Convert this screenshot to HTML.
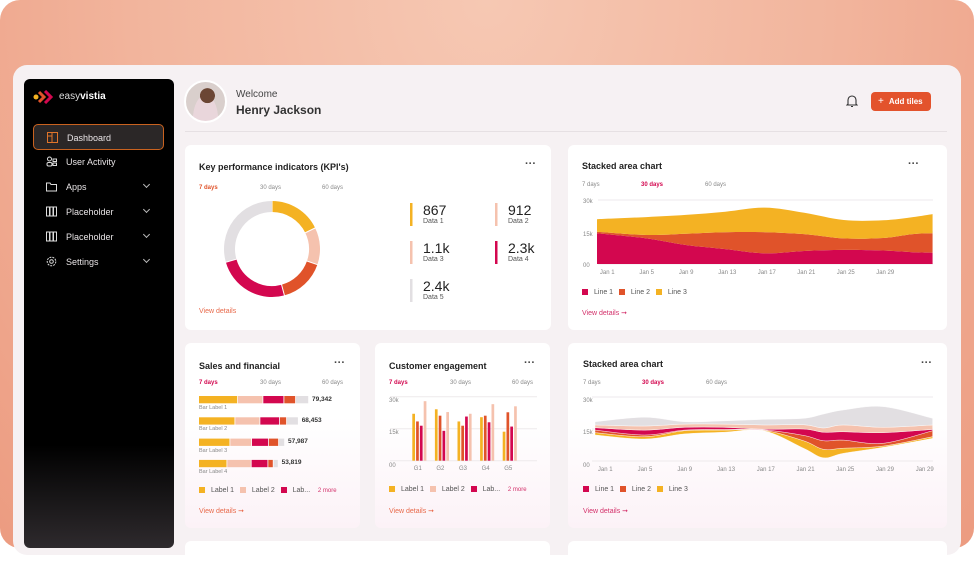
<!DOCTYPE html>
<html><head><meta charset="utf-8">
<style>
*{box-sizing:border-box;margin:0;padding:0}
body{width:974px;height:548px;overflow:hidden;background:#fff;font-family:"Liberation Sans",sans-serif;position:relative}
.abs{position:absolute}
#outer{left:0;top:0;width:974px;height:548px;border-radius:20px;background:radial-gradient(ellipse at 50% 0%,#f6c8b3 0%,#f2b59d 50%,#ec9b80 100%)}
#frame{left:13px;top:65px;width:948px;height:490px;border-radius:14px;background:#f6f1f3}
#side{left:24px;top:79px;width:150px;height:469px;border-radius:6px;background:linear-gradient(#000 0%,#000 78%,#2e2a2d 100%)}
.nav{position:absolute;left:33px;width:131px;height:26px;color:#e8e4e6;font-size:9px;display:flex;align-items:center}
.nav .ic{position:absolute;left:13px;top:7px;width:11px;height:11px}
.nav span.t{position:absolute;left:33px;top:8px}
.nav .chev{position:absolute;left:111px;top:8px;width:5px;height:5px;border-right:1px solid #bbb;border-bottom:1px solid #bbb;transform:rotate(45deg)}
.card{position:absolute;background:#fff;border-radius:6px}
.ttl{position:absolute;font-size:9px;font-weight:bold;color:#222}
.dots{position:absolute;font-size:11px;color:#444;letter-spacing:0px;font-weight:bold}
.tab{position:absolute;font-size:6px;color:#8a8a8a}
.tab.on{font-weight:bold}
.vd{position:absolute;font-size:7px}
.tick{position:absolute;font-size:6px;color:#888}
.kv{position:absolute;font-size:14px;color:#222}
.kl{position:absolute;font-size:7px;color:#555}
.leg{position:absolute;font-size:7px;color:#555}
.sw{display:inline-block;width:6px;height:6px;margin-right:6px;vertical-align:-1px}
</style></head><body>
<div class="abs" id="outer"></div>
<div class="abs" id="frame"></div>

<div class="abs" id="side"></div>
<div class="abs" style="left:33px;top:90px;width:110px;height:14px">
  <svg width="22" height="14" style="position:absolute;left:0;top:0"><circle cx="3" cy="7" r="2.5" fill="#f4b223"/><path d="M6 2 L11 7 L6 12" stroke="#e0532a" stroke-width="3" fill="none"/><path d="M12 1 L18 7 L12 13" stroke="#d3074f" stroke-width="3" fill="none"/></svg>
  <span style="position:absolute;left:26px;top:1px;font-size:10px;color:#ddd">easy<b style="color:#fff">vistia</b></span>
</div>
<div class="nav" style="top:124px;background:#2b2727;border:1px solid #c9621f;border-radius:5px"><svg class="ic" viewBox="0 0 11 11"><rect x="0.5" y="0.5" width="10" height="10" fill="none" stroke="#e0742a"/><path d="M5 0.5 V10.5 M0.5 4 H5" stroke="#e0742a"/></svg><span class="t">Dashboard</span></div>
<div class="nav" style="top:149px"><svg class="ic" viewBox="0 0 11 11"><circle cx="3.5" cy="3" r="2" fill="none" stroke="#ddd"/><rect x="1" y="6.5" width="5" height="3.5" rx="1.5" fill="none" stroke="#ddd"/><rect x="7" y="3" width="3.5" height="2.5" fill="none" stroke="#ddd"/><rect x="7" y="7" width="3.5" height="2.5" fill="none" stroke="#ddd"/></svg><span class="t">User Activity</span></div>
<div class="nav" style="top:174px"><svg class="ic" viewBox="0 0 11 11"><path d="M0.5 2 H4 L5 3.5 H10.5 V10 H0.5 Z" fill="none" stroke="#ddd"/></svg><span class="t">Apps</span><i class="chev"></i></div>
<div class="nav" style="top:199px"><svg class="ic" viewBox="0 0 11 11"><rect x="0.5" y="1" width="3" height="9" fill="none" stroke="#ddd"/><rect x="4" y="1" width="3" height="9" fill="none" stroke="#ddd"/><rect x="7.5" y="1" width="3" height="9" fill="none" stroke="#ddd"/></svg><span class="t">Placeholder</span><i class="chev"></i></div>
<div class="nav" style="top:224px"><svg class="ic" viewBox="0 0 11 11"><rect x="0.5" y="1" width="3" height="9" fill="none" stroke="#ddd"/><rect x="4" y="1" width="3" height="9" fill="none" stroke="#ddd"/><rect x="7.5" y="1" width="3" height="9" fill="none" stroke="#ddd"/></svg><span class="t">Placeholder</span><i class="chev"></i></div>
<div class="nav" style="top:249px"><svg class="ic" viewBox="0 0 11 11"><circle cx="5.5" cy="5.5" r="4.3" fill="none" stroke="#ddd" stroke-dasharray="2 1"/><circle cx="5.5" cy="5.5" r="1.8" fill="none" stroke="#ddd"/></svg><span class="t">Settings</span><i class="chev"></i></div>

<!-- header -->
<div class="abs" style="left:184px;top:80px;width:43px;height:43px;border-radius:50%;background:radial-gradient(circle at 55% 35%,#6b4634 0 22%,transparent 23%),radial-gradient(ellipse at 50% 95%,#e9d6db 0 45%,transparent 46%),#d9cfcc;border:2px solid #fff"></div>
<div class="abs" style="left:236px;top:89px;font-size:10px;color:#444">Welcome</div>
<div class="abs" style="left:236px;top:103px;font-size:12px;font-weight:bold;color:#333">Henry Jackson</div>
<svg class="abs" style="left:846px;top:94px" width="12" height="14"><path d="M2 10 V6 A4 4 0 0 1 10 6 V10 L11 11 H1 Z" fill="none" stroke="#333" stroke-width="1.1"/><path d="M5 12.5 H7" stroke="#333"/></svg>
<div class="abs" style="left:871px;top:92px;width:60px;height:19px;border-radius:4px;background:#e3532c;color:#fff;font-size:8px;font-weight:bold;line-height:19px;padding-left:7px"><span style="font-weight:normal;font-size:10px;margin-right:5px">+</span>Add tiles</div>
<div class="abs" style="left:185px;top:131px;width:762px;height:1px;background:#e6e0e3"></div>

<!-- cards -->
<div class="card" style="left:185px;top:145px;width:366px;height:185px"></div>
<div class="card" style="left:568px;top:145px;width:379px;height:185px"></div>
<div class="card" style="left:185px;top:343px;width:175px;height:185px;background:linear-gradient(#fff 40%,#fcf2f7)"></div>
<div class="card" style="left:375px;top:343px;width:175px;height:185px;background:linear-gradient(#fff 40%,#fcf2f7)"></div>
<div class="card" style="left:568px;top:343px;width:379px;height:185px;background:linear-gradient(#fff 40%,#fcf2f7)"></div>
<div class="card" style="left:185px;top:541px;width:365px;height:20px"></div>
<div class="card" style="left:568px;top:541px;width:379px;height:20px"></div>

<!-- KPI card text -->
<div class="ttl" style="left:199px;top:162px">Key performance indicators (KPI's)</div>
<div class="dots" style="left:525px;top:158px">···</div>
<div class="tab on" style="left:199px;top:185px;color:#e0532a">7 days</div>
<div class="tab" style="left:260px;top:185px">30 days</div>
<div class="tab" style="left:322px;top:185px">60 days</div>
<div class="vd" style="left:199px;top:308px;color:#e8694a">View details</div>
<div id="kpis"></div>

<!-- stacked area 1 text -->
<div class="ttl" style="left:582px;top:161px">Stacked area chart</div>
<div class="dots" style="left:908px;top:158px">···</div>
<div class="tab" style="left:582px;top:182px">7 days</div>
<div class="tab on" style="left:641px;top:182px;color:#d3074f">30 days</div>
<div class="tab" style="left:705px;top:182px">60 days</div>
<div class="leg" style="left:582px;top:289px"><span class="sw" style="background:#d3074f"></span>Line 1&nbsp;&nbsp;&nbsp;<span class="sw" style="background:#e0532a"></span>Line 2&nbsp;&nbsp;&nbsp;<span class="sw" style="background:#f4b223"></span>Line 3</div>
<div class="vd" style="left:582px;top:309px;color:#d3306a">View details &#10142;</div>

<!-- sales -->
<div class="ttl" style="left:199px;top:361px">Sales and financial</div>
<div class="dots" style="left:334px;top:357px">···</div>
<div class="tab on" style="left:199px;top:380px;color:#d3074f">7 days</div>
<div class="tab" style="left:260px;top:380px">30 days</div>
<div class="tab" style="left:322px;top:380px">60 days</div>
<div class="leg" style="left:199px;top:487px"><span class="sw" style="background:#f4b223"></span>Label 1&nbsp;&nbsp;&nbsp;<span class="sw" style="background:#f5c2ae"></span>Label 2&nbsp;&nbsp;&nbsp;<span class="sw" style="background:#d3074f"></span>Lab...&nbsp;&nbsp;&nbsp;&nbsp;<span style="color:#d3306a;font-size:6px">2 more</span></div>
<div class="vd" style="left:199px;top:507px;color:#e8694a">View details &#10142;</div>

<!-- engagement -->
<div class="ttl" style="left:389px;top:361px">Customer engagement</div>
<div class="dots" style="left:524px;top:357px">···</div>
<div class="tab on" style="left:389px;top:380px;color:#d3074f">7 days</div>
<div class="tab" style="left:450px;top:380px">30 days</div>
<div class="tab" style="left:512px;top:380px">60 days</div>
<div class="leg" style="left:389px;top:486px"><span class="sw" style="background:#f4b223"></span>Label 1&nbsp;&nbsp;&nbsp;<span class="sw" style="background:#f5c2ae"></span>Label 2&nbsp;&nbsp;&nbsp;<span class="sw" style="background:#d3074f"></span>Lab...&nbsp;&nbsp;&nbsp;&nbsp;<span style="color:#d3306a;font-size:6px">2 more</span></div>
<div class="vd" style="left:389px;top:507px;color:#e8694a">View details &#10142;</div>

<!-- stacked area 2 -->
<div class="ttl" style="left:583px;top:359px">Stacked area chart</div>
<div class="dots" style="left:921px;top:357px">···</div>
<div class="tab" style="left:583px;top:380px">7 days</div>
<div class="tab on" style="left:642px;top:380px;color:#d3074f">30 days</div>
<div class="tab" style="left:706px;top:380px">60 days</div>
<div class="leg" style="left:583px;top:486px"><span class="sw" style="background:#d3074f"></span>Line 1&nbsp;&nbsp;&nbsp;<span class="sw" style="background:#e0532a"></span>Line 2&nbsp;&nbsp;&nbsp;<span class="sw" style="background:#f4b223"></span>Line 3</div>
<div class="vd" style="left:583px;top:507px;color:#d3306a">View details &#10142;</div>

<div id="labels"></div>
<svg id="charts" class="abs" style="left:0;top:0" width="974" height="548"></svg>

<script>
// ---- Donut / KPI data ----
const donutValues = [64, 45, 56, 89, 106];
const kpiValues = ["867", "912", "1.1k", "2.3k", "2.4k"];
const kpiLabels = ["Data 1", "Data 2", "Data 3", "Data 4", "Data 5"];
// ---- Stacked area 1 ----
const area1Days = [0, 5, 9, 13, 17, 21, 25, 29, 32, 34];
const area1Line1 = [14.4, 12, 8.9, 7, 5, 6.1, 6.6, 6.3, 5.5, 5.3];
const area1Line2 = [0.7, 1.6, 5.3, 7.9, 9.9, 7.9, 5.4, 5.9, 8.5, 9.1];
const area1Line3 = [5.9, 8.4, 8.8, 9.6, 11.5, 10, 8.6, 8.3, 8, 9];
const areaTickLabels = ["Jan 1", "Jan 5", "Jan 9", "Jan 13", "Jan 17", "Jan 21", "Jan 25", "Jan 29"];
const areaTickDays = [1, 5, 9, 13, 17, 21, 25, 29];
const yTickLabels = ["30k", "15k", "00"];
const yTickValues = [30, 15, 0];
// ---- Stacked area 2 (stream) ----
const area2Days = [0, 5, 9, 13, 17, 21, 23, 25, 29, 34];
const area2Base = [12.2, 10.3, 12.7, 13.5, 14.2, 6, 1.5, 3.6, 6.4, 10.6];
const area2Line3 = [1.1, 1.1, 1.5, 1, 0.2, 3.5, 4, 2.4, 0.6, 0.8];
const area2Line2 = [1.2, 0.8, 0.3, 0.3, 0.2, 2.5, 4, 3.8, 1.3, 2.8];
const area2Line1 = [1.1, 2.3, 1.3, 1, 0.3, 3, 4, 3.9, 5, 0.6];
const area2Peach = [1.3, 1.9, 1.5, 1.5, 2, 2, 2, 3.2, 2.5, 2.1];
const area2Grey = [1.5, 4.1, 1.1, 1.5, 2.6, 3, 6.5, 7, 9.7, 3.1];
const area2TickLabels = ["Jan 1", "Jan 5", "Jan 9", "Jan 13", "Jan 17", "Jan 21", "Jan 25", "Jan 29", "Jan 29"];
const area2TickDays = [1, 5, 9, 13, 17, 21, 25, 29, 33];
// ---- Sales bars ----
const salesLabels = ["Bar Label 1", "Bar Label 2", "Bar Label 3", "Bar Label 4"];
const salesTotals = ["79,342", "68,453", "57,987", "53,819"];
const salesSeg1 = [39, 36.3, 31.3, 28.3];
const salesSeg2 = [25.3, 25, 21.7, 24.3];
const salesSeg3 = [21, 19.7, 17, 16.7];
const salesSeg4 = [11.7, 7, 10, 5.3];
const salesSeg5 = [13, 11.7, 6, 5];
// ---- Engagement bars ----
const engGroups = ["G1", "G2", "G3", "G4", "G5"];
const engLabel1 = [22, 24.1, 18.4, 20.4, 13.6];
const engLabel2 = [18.4, 21.1, 16.4, 21.1, 22.7];
const engLabel3 = [16.4, 14, 20.7, 18, 16];
const engLabel4 = [27.9, 22.8, 22, 26.5, 25.5];

const NS = "http://www.w3.org/2000/svg";
const svg = document.getElementById('charts');
const labels = document.getElementById('labels');
const C = {yellow:"#f4b223", peach:"#f5c2ae", orange:"#e0532a", crimson:"#d3074f", grey:"#e2dfe2"};

function mk(tag, attrs){ const e=document.createElementNS(NS,tag); for(const k in attrs) e.setAttribute(k,attrs[k]); svg.appendChild(e); return e; }
function txt(name, s, x, y, cls, extra){ const d=document.createElement('div'); d.className=cls; d.textContent=s; d.style.left=x+'px'; d.style.top=y+'px'; if(extra) d.style.cssText+=extra;
  
  
  labels.appendChild(d); return d; }
function segs(pts){ let d=''; for(let i=0;i<pts.length-1;i++){ const p0=pts[i-1]||pts[i], p1=pts[i], p2=pts[i+1], p3=pts[i+2]||p2;
  const c1=[p1[0]+(p2[0]-p0[0])/6, p1[1]+(p2[1]-p0[1])/6], c2=[p2[0]-(p3[0]-p1[0])/6, p2[1]-(p3[1]-p1[1])/6];
  d+=`C${c1[0].toFixed(2)},${c1[1].toFixed(2)} ${c2[0].toFixed(2)},${c2[1].toFixed(2)} ${p2[0].toFixed(2)},${p2[1].toFixed(2)}`; } return d; }
function areaPath(top, bot){ const rb=bot.slice().reverse(); return `M${top[0][0]},${top[0][1]}`+segs(top)+`L${rb[0][0]},${rb[0][1]}`+segs(rb)+'Z'; }

// ---- Donut ----
(function(){
  const cx=272, cy=249, r=42.5, total=donutValues.reduce((a,b)=>a+b,0);
  const cols=[C.yellow,C.peach,C.orange,C.crimson,C.grey];
  let a0=0;
  donutValues.forEach((v,i)=>{
    const a1=a0+v/total*Math.PI*2;
    const p=(a)=>[cx+r*Math.sin(a), cy-r*Math.cos(a)];
    const s=p(a0), e=p(a1), large=(a1-a0)>Math.PI?1:0;
    const el=mk('path',{d:`M${s[0]},${s[1]} A${r},${r} 0 ${large} 1 ${e[0]},${e[1]}`,stroke:cols[i],'stroke-width':11,fill:'none'});
    
    
    const g=mk('line',{x1:cx+(r-6)*Math.sin(a0),y1:cy-(r-6)*Math.cos(a0),x2:cx+(r+6)*Math.sin(a0),y2:cy-(r+6)*Math.cos(a0),stroke:'#fff','stroke-width':1});
    
    
    a0=a1;
  });
  const kcols=[C.yellow,C.peach,C.peach,C.crimson,C.grey];
  kpiValues.forEach((v,i)=>{
    const col=i%2, row=Math.floor(i/2);
    const x=410+col*85, y=203+row*38;
    const b=mk('rect',{x:x,y:y,width:2.5,height:23,fill:kcols[i]});
    
    
    txt('kpi-value-'+(i+1), v, x+13, y-1, 'kv');
    txt('kpi-label-'+(i+1), kpiLabels[i], x+13, y+15, 'kl');
  });
})();

// ---- Area chart 1 ----
(function(){
  const x=d=>597+d*9.87, y=v=>264-v*64/30;
  yTickValues.forEach((v,i)=>{
    const l=mk('line',{x1:598,x2:933,y1:y(v),y2:y(v),stroke:'#eeeaec','stroke-width':1});
    
    
    txt('area1-y-tick', yTickLabels[i], 583, y(v)+(i==0?0:i==1?1:0)-1, 'tick');
  });
  let cum=area1Days.map(()=>0);
  const layers=[[area1Line1,C.crimson,'area1-line1'],[area1Line2,C.orange,'area1-line2'],[area1Line3,C.yellow,'area1-line3']];
  layers.forEach(([arr,col,name])=>{
    const bot=area1Days.map((d,i)=>[x(d),y(cum[i])]);
    cum=cum.map((c,i)=>c+arr[i]);
    const top=area1Days.map((d,i)=>[x(d),y(cum[i])]);
    const p=mk('path',{d:areaPath(top,bot),fill:col});
    
    
  });
  areaTickLabels.forEach((s,i)=>txt('area1-x-tick', s, x(areaTickDays[i])-7, 270, 'tick'));
})();

// ---- Area chart 2 (stream) ----
(function(){
  const x=d=>595+d*9.93, y=v=>461-v*64/30;
  yTickValues.forEach((v,i)=>{
    const l=mk('line',{x1:592,x2:933,y1:y(v),y2:y(v),stroke:'#eeeaec','stroke-width':1});
    
    
    txt('area2-y-tick', yTickLabels[i], 583, y(v)+(i==2?2:1), 'tick');
  });
  let cum=area2Base.slice();
  const layers=[[area2Line3,C.yellow,'area2-line3'],[area2Line2,C.orange,'area2-line2'],[area2Line1,C.crimson,'area2-line1'],[area2Peach,C.peach,'area2-line4'],[area2Grey,C.grey,'area2-line5']];
  layers.forEach(([arr,col,name])=>{
    const bot=area2Days.map((d,i)=>[x(d),y(cum[i])]);
    cum=cum.map((c,i)=>c+arr[i]);
    const top=area2Days.map((d,i)=>[x(d),y(cum[i])]);
    const p=mk('path',{d:areaPath(top,bot),fill:col,stroke:'#fff','stroke-width':0.4});
    
    
  });
  area2TickLabels.forEach((s,i)=>txt('area2-x-tick', s, Math.min(x(area2TickDays[i])-7,919), 467, 'tick'));
})();

// ---- Sales stacked bars ----
(function(){
  const x0=199, sx=v=>v*1;
  const segsArr=[salesSeg1,salesSeg2,salesSeg3,salesSeg4,salesSeg5];
  const cols=[C.yellow,C.peach,C.crimson,C.orange,C.grey];
  salesLabels.forEach((lab,r)=>{
    const yy=396+r*21.3;
    let cx=x0;
    segsArr.forEach((arr,k)=>{
      const w=sx(arr[r]);
      const b=mk('rect',{x:cx,y:yy,width:Math.max(w-0.8,0),height:7.3,fill:cols[k]});
      
      
      cx+=w;
    });
    txt('sales-total-'+(r+1), salesTotals[r], cx+3, yy-0.5, 'tick', 'font-weight:bold;color:#333;font-size:6.5px');
    txt('sales-label-'+(r+1), lab, x0, yy+9, 'tick', 'font-size:5.5px');
  });
})();

// ---- Engagement grouped bars ----
(function(){
  const y=v=>460.7-v*64/30;
  [30,15,0].forEach((v,i)=>{
    const l=mk('line',{x1:390,x2:537,y1:y(v),y2:y(v),stroke:'#eeeaec','stroke-width':1});
    
    
    txt('engagement-y-tick', yTickLabels[i], 389, y(v)+(i==2?2:1), 'tick');
  });
  const series=[engLabel1,engLabel2,engLabel3,engLabel4];
  const cols=[C.yellow,C.orange,C.crimson,C.peach];
  engGroups.forEach((g,i)=>{
    const gx=412.3+i*22.6;
    series.forEach((arr,k)=>{
      const b=mk('rect',{x:gx+k*3.8,y:y(arr[i]),width:2.7,height:y(0)-y(arr[i]),fill:cols[k]});
      
      
    });
    txt('engagement-x-tick', g, gx+1.5, 466, 'tick');
  });
})();
</script>
</body></html>
